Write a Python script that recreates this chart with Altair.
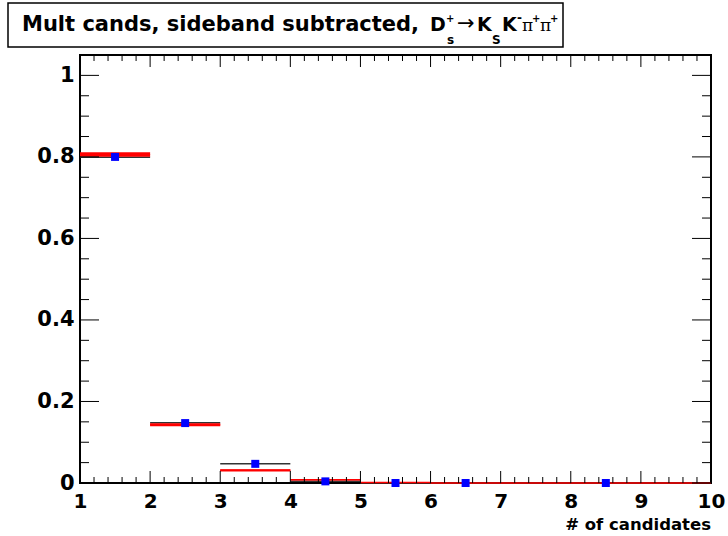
import altair as alt
import pandas as pd

# ---- data ----
bin_lo = [1, 2, 3, 4, 5, 6, 7, 8, 9]
bin_hi = [2, 3, 4, 5, 6, 7, 8, 9, 10]
black_vals = [0.799, 0.148, 0.047, 0.004, 0.0, 0.0, 0.0, 0.0, 0.0]
red_vals = [0.806, 0.143, 0.031, 0.008, 0.001, 0.0, 0.0, 0.0, 0.0]
red_errs = [0.0055, 0.0037, 0.0025, 0.0012, 0.001, 0.0, 0.0, 0.0, 0.0]
blue_x = [1.5, 2.5, 3.5, 4.5, 5.5, 6.5, 8.5]
blue_vals = [0.800, 0.147, 0.047, 0.004, 0.0, 0.0, 0.0]

x_major = [1, 2, 3, 4, 5, 6, 7, 8, 9, 10]
y_major = [0, 0.2, 0.4, 0.6, 0.8, 1.0]
x_minor = [round(1 + 0.2 * i, 3) for i in range(46) if i % 5]
y_minor = [round(0.05 * i, 3) for i in range(22) if i % 4]

W, H = 631, 428
FONT = "DejaVu Sans"

hist = pd.DataFrame({
    "lo": bin_lo, "hi": bin_hi, "black": black_vals, "red": red_vals,
    "rlo": [v - e for v, e in zip(red_vals, red_errs)],
    "rhi": [v + e for v, e in zip(red_vals, red_errs)],
})
pts = pd.DataFrame({"x": blue_x, "y": blue_vals})

xs = alt.Scale(domain=[1, 10], nice=False, zero=False)
ys = alt.Scale(domain=[0, 1.05], nice=False)
X_AX = alt.Axis(values=x_major, ticks=False, tickSize=0, domain=False, grid=False,
                labelFont=FONT, labelFontWeight="bold", labelFontSize=20,
                labelPadding=8, labelColor="black", title=None, labelFlush=False,
                labelOverlap=False, labelBound=False, format="d")
Y_AX = alt.Axis(values=y_major, ticks=False, tickSize=0, domain=False, grid=False,
                labelFont=FONT, labelFontWeight="bold", labelFontSize=21,
                labelPadding=6, labelColor="black", title=None, labelFlush=False,
                labelOverlap=False, labelBound=False, format="~g")


def X(f):
    return alt.X(f, type="quantitative", scale=xs, axis=X_AX)


def Y(f):
    return alt.Y(f, type="quantitative", scale=ys, axis=Y_AX)


layers = []

# histograms
layers.append(alt.Chart(hist).mark_rule(color="#333333", strokeWidth=1.5).encode(
    x=X("lo"), x2="hi", y=Y("black")))
layers.append(alt.Chart(hist).mark_rect(color="red").encode(
    x=X("lo"), x2="hi", y=Y("rlo"), y2="rhi"))
layers.append(alt.Chart(hist).mark_rule(color="red", strokeWidth=1.5).encode(
    x=X("lo"), x2="hi", y=Y("red")))
layers.append(alt.Chart(pts).mark_square(color="#0000ff", opacity=1, size=64).encode(
    x=X("x"), y=Y("y")))

# inside ticks (ROOT style, on all four sides)
xmaj = pd.DataFrame({"v": x_major})
xmin = pd.DataFrame({"v": x_minor})
ymaj = pd.DataFrame({"v": y_major})
ymin = pd.DataFrame({"v": y_minor})
for df, ln in ((xmaj, 12), (xmin, 6)):
    layers.append(alt.Chart(df).mark_rule(color="black", strokeWidth=1).encode(
        x=X("v"), y=alt.value(H), y2=alt.value(H - ln)))
    layers.append(alt.Chart(df).mark_rule(color="black", strokeWidth=1).encode(
        x=X("v"), y=alt.value(0), y2=alt.value(ln)))
for df, ln in ((ymaj, 19), (ymin, 9)):
    layers.append(alt.Chart(df).mark_rule(color="black", strokeWidth=1).encode(
        y=Y("v"), x=alt.value(0), x2=alt.value(ln)))
    layers.append(alt.Chart(df).mark_rule(color="black", strokeWidth=1).encode(
        y=Y("v"), x=alt.value(W), x2=alt.value(W - ln)))

one = pd.DataFrame({"a": [0]})

# title box
layers.append(alt.Chart(one).mark_rect(fill="white", stroke="black", strokeWidth=1.5).encode(
    x=alt.value(-72), x2=alt.value(483), y=alt.value(-52), y2=alt.value(-8)))

# title pieces: (text, abs x, abs baseline y, size, font, weight)
pieces = [
    ("Mult cands, sideband subtracted, ", 22, 31, 21, FONT, "bold"),
    ("D", 430, 31, 19, FONT, "bold"),
    ("+", 446, 22, 10, FONT, "bold"),
    ("s", 447, 44, 12, FONT, "bold"),
    ("\u2192", 457, 30, 21, FONT, "normal"),
    ("K", 477, 31, 19, FONT, "bold"),
    ("S", 492, 44, 12, FONT, "bold"),
    ("K", 502, 31, 19, FONT, "bold"),
    ("-", 517, 22, 12, FONT, "bold"),
    ("\u03c0", 522, 31, 17, "DejaVu Serif", "normal"),
    ("+", 532, 22, 10, FONT, "bold"),
    ("\u03c0", 540, 31, 17, "DejaVu Serif", "normal"),
    ("+", 550, 22, 10, FONT, "bold"),
]
for txt, ax, ay, sz, fnt, wt in pieces:
    layers.append(alt.Chart(one).mark_text(
        text=txt, align="left", baseline="alphabetic", font=fnt,
        fontWeight=wt, fontSize=sz, color="black").encode(
        x=alt.value(ax - 80), y=alt.value(ay - 55)))

# x-axis title
layers.append(alt.Chart(one).mark_text(
    text="# of candidates", align="right", baseline="alphabetic", font=FONT,
    fontWeight="bold", fontSize=16.5, color="black").encode(
    x=alt.value(W), y=alt.value(530 - 55)))

chart = alt.layer(*layers).properties(
    width=W, height=H,
    autosize=alt.AutoSizeParams(type="none"),
    padding={"left": 80, "top": 55, "right": 17, "bottom": 53},
    background="white",
).configure_view(stroke="black", strokeWidth=2)

chart.save("out.html", embed_options={"renderer": "svg", "actions": False})
